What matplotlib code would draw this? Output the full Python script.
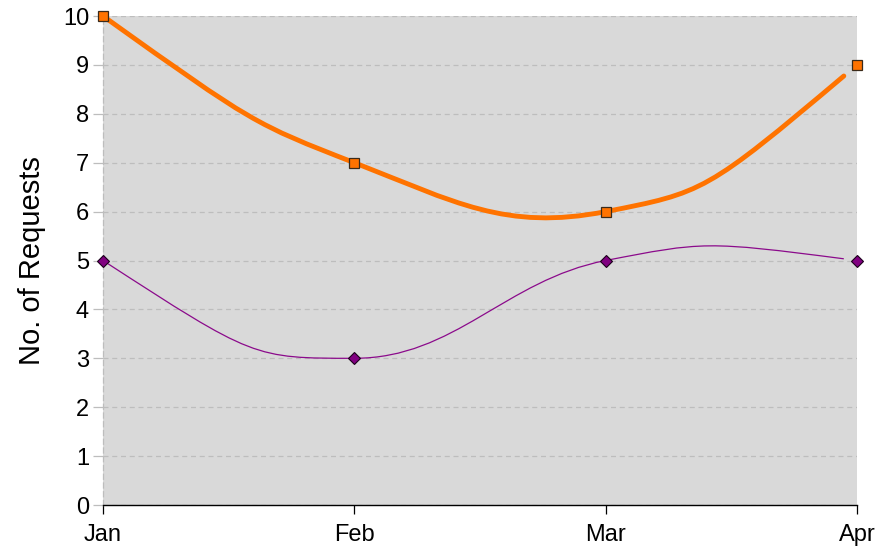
import matplotlib
matplotlib.use('Agg')
import matplotlib.pyplot as plt
from matplotlib.path import Path
from matplotlib.patches import PathPatch

plt.rcParams['font.family'] = ['Liberation Sans', 'DejaVu Sans']

months = ['Jan', 'Feb', 'Mar', 'Apr']
series_a = [10, 7, 6, 9]
series_b = [5, 3, 5, 5]


def split_bezier(p0, p1, p2, p3, t):
    # first part of a cubic bezier, cut at t
    lerp = lambda a, b: (a[0] + (b[0] - a[0]) * t, a[1] + (b[1] - a[1]) * t)
    a, b, c = lerp(p0, p1), lerp(p1, p2), lerp(p2, p3)
    d, e = lerp(a, b), lerp(b, c)
    return a, d, lerp(d, e)


def smooth_path(ys, f=0.2, last_t=0.97):
    # Bezier curve through the points, Excel-like smoothing
    n = len(ys)
    pts = [(float(i), float(y)) for i, y in enumerate(ys)]
    after = {}
    before = {}
    for i in range(1, n - 1):
        dx = pts[i + 1][0] - pts[i - 1][0]
        dy = pts[i + 1][1] - pts[i - 1][1]
        after[i] = (pts[i][0] + f * dx, pts[i][1] + f * dy)
        before[i] = (pts[i][0] - f * dx, pts[i][1] - f * dy)
    after[0] = before[1]
    before[n - 1] = after[n - 2]
    verts = [pts[0]]
    codes = [Path.MOVETO]
    for i in range(n - 1):
        seg = [after[i], before[i + 1], pts[i + 1]]
        if i == n - 2:
            seg = list(split_bezier(pts[i], seg[0], seg[1], seg[2], last_t))
        verts += seg
        codes += [Path.CURVE4] * 3
    return Path(verts, codes)


fig = plt.figure(figsize=(8.94, 5.5), dpi=100)
ax = fig.add_axes([0.1152, 0.0818, 0.8434, 0.8891])
ax.set_facecolor('#d9d9d9')

x = range(len(months))
ax.add_patch(PathPatch(smooth_path(series_a), fill=False, edgecolor='#ff7300',
                       linewidth=3.5, zorder=3, capstyle='round'))
ax.add_patch(PathPatch(smooth_path(series_b), fill=False, edgecolor='#8b0a8b',
                       linewidth=0.9, zorder=3))
ax.plot(x, series_a, linestyle='none', marker='s', markersize=7,
        markerfacecolor='#ff7300', markeredgecolor='#3a2a1a', markeredgewidth=0.9,
        zorder=4, clip_on=False)
ax.plot(x, series_b, linestyle='none', marker='D', markersize=6,
        markerfacecolor='#800080', markeredgecolor='#1a001a', markeredgewidth=0.8,
        zorder=4, clip_on=False)

ax.set_xlim(0, 3)
ax.set_ylim(0, 10)
ax.set_xticks(list(x))
ax.set_xticklabels(months)
ax.set_yticks(range(0, 11))

ax.grid(axis='y', color='#bdbdbd', linestyle=(0, (4, 3)), linewidth=0.9)
ax.set_axisbelow(True)

for side in ['top', 'right']:
    ax.spines[side].set_visible(False)
ax.spines['left'].set_color('#bdbdbd')
ax.spines['left'].set_linestyle((0, (4, 3)))
ax.spines['left'].set_linewidth(0.9)
ax.spines['bottom'].set_color('black')
ax.spines['bottom'].set_linewidth(1.0)

ax.tick_params(axis='y', length=7, color='#bdbdbd', width=0.9, labelsize=17, pad=3)
ax.tick_params(axis='x', length=6.5, color='black', width=0.9, labelsize=17, pad=7)

ax.set_ylabel('No. of Requests', fontsize=21, labelpad=12)

fig.savefig('out.png', dpi=100)
